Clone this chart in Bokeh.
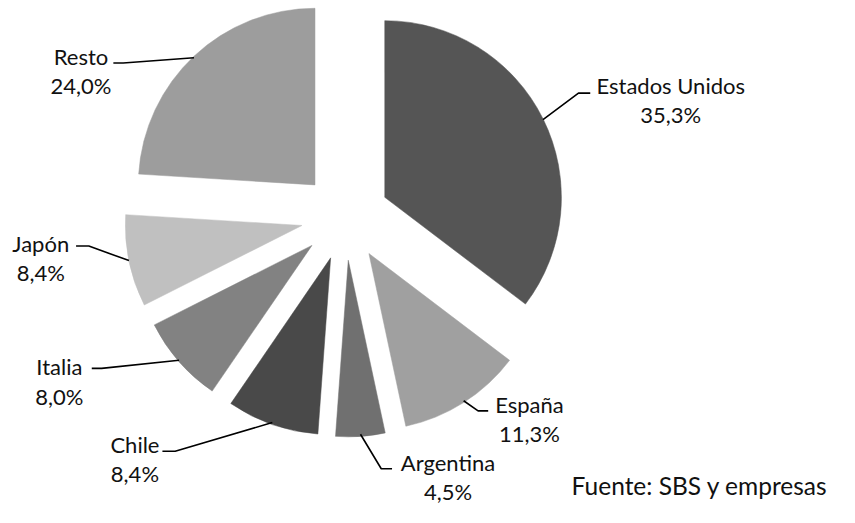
import math
from bokeh.plotting import figure
from bokeh.models import Range1d, ColumnDataSource
from bokeh.core.properties import value
from bokeh.embed import file_html
from bokeh.resources import INLINE

# ---- data ----
names = ["Estados Unidos", "España", "Argentina", "Chile", "Italia", "Japón", "Resto"]
shares = [35.3, 11.3, 4.5, 8.4, 8.0, 8.4, 24.0]
source_note = "Fuente: SBS y empresas"

# ---- styles / layout ----
colors = ["#555555", "#a0a0a0", "#707070", "#494949", "#828282", "#c0c0c0", "#9d9d9d"]
W, H = 839, 507
REF_W, REF_H = 855, 523        # layout coordinates (reference pixels)
CX, CY_SCREEN = 351.3, 223.0   # pie centre
R = 180.0                      # radius
EXPLODE = 45.0                 # explosion distance
LINE_GAP = 30                  # distance between label lines
FONT = "Lato"
FSIZE = "22px"

# label anchors and leader elbow/end points (reference pixel coords, y down)
label_pos = [(683, 88), (539, 417), (456, 477), (137, 458), (60, 378), (41, 251), (82, 58)]
leader_pts = [
    [(589, 95.5), (601, 95.5)],
    [(486.7, 423.3), (497, 423.3)],
    [(388, 483), (399, 483)],
    [(178, 465), (165, 465)],
    [(103, 379.5), (93, 379.5)],
    [(90, 253.3), (77, 253.3)],
    [(125, 64.5), (115, 64.5)],
]
note_pos = (582, 500)


def Y(ys):
    return REF_H - ys


p = figure(width=W, height=H, output_backend="svg", toolbar_location=None,
           x_axis_type=None, y_axis_type=None,
           x_range=Range1d(0, REF_W), y_range=Range1d(0, REF_H),
           min_border=0)
p.outline_line_color = None
p.background_fill_color = "white"
p.border_fill_color = "white"

total = sum(shares)
cy = Y(CY_SCREEN)
acc = 0.0
wx, wy, sa, ea = [], [], [], []
xs_l, ys_l = [], []
for i, s in enumerate(shares):
    t0 = acc / total * 360.0
    acc += s
    t1 = acc / total * 360.0
    mid = math.radians((t0 + t1) / 2)
    ax = CX + EXPLODE * math.sin(mid)
    ay = cy + EXPLODE * math.cos(mid)
    wx.append(ax)
    wy.append(ay)
    sa.append(math.radians(90 - t0))
    ea.append(math.radians(90 - t1))
    # leader line from arc midpoint
    sx = ax + R * math.sin(mid)
    sy = ay + R * math.cos(mid)
    pts = leader_pts[i]
    xs_l.append([sx] + [q[0] for q in pts])
    ys_l.append([sy] + [Y(q[1]) for q in pts])

src = ColumnDataSource(dict(x=wx, y=wy, start=sa, end=ea, color=colors))
p.wedge(x="x", y="y", radius=R, start_angle="start", end_angle="end",
        direction="clock", fill_color="color", line_color="color", line_width=0.5,
        source=src)

p.multi_line(xs=xs_l, ys=ys_l, line_color="black", line_width=1.6)

lx = [q[0] for q in label_pos]
ly1 = [Y(q[1]) for q in label_pos]
ly2 = [Y(q[1] + LINE_GAP) for q in label_pos]
pct = [f"{s:.1f}".replace(".", ",") + "%" for s in shares]

p.text(x=lx, y=ly1, text=names, text_align="center", text_baseline="middle",
       text_font=value(FONT), text_font_size=FSIZE, text_color="#111111")
p.text(x=lx, y=ly2, text=pct, text_align="center", text_baseline="middle",
       text_font=value(FONT), text_font_size=FSIZE, text_color="#111111")
p.text(x=[note_pos[0]], y=[Y(note_pos[1])], text=[source_note], text_align="left",
       text_baseline="middle", text_font=value(FONT), text_font_size="24.5px",
       text_color="#111111")

open("out.html", "w").write(file_html(p, INLINE))
